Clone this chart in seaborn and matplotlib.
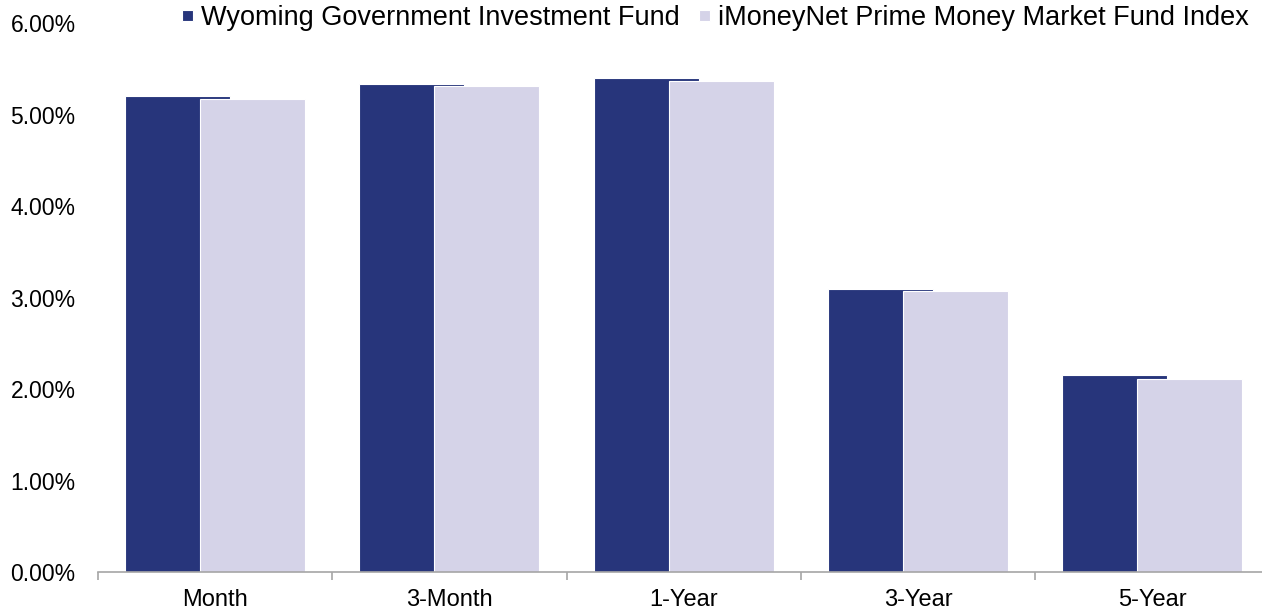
import pandas as pd
import matplotlib.pyplot as plt
import seaborn as sns
from matplotlib.ticker import FuncFormatter

# Data (percent)
periods = ["Month", "3-Month", "1-Year", "3-Year", "5-Year"]
wyoming = [5.20, 5.34, 5.40, 3.09, 2.15]
imoneynet = [5.17, 5.31, 5.37, 3.07, 2.11]
series_names = ["Wyoming Government Investment Fund",
                "iMoneyNet Prime Money Market Fund Index"]
series_colors = ["#27357B", "#D5D3E8"]
y_ticks = [0, 1, 2, 3, 4, 5, 6]


def main():
    df = pd.DataFrame({
        "period": periods * 2,
        "value": wyoming + imoneynet,
        "series": [series_names[0]] * len(periods) + [series_names[1]] * len(periods),
    })

    sns.set_theme(style="white")
    plt.rcParams["font.family"] = ["Liberation Sans", "DejaVu Sans"]

    fig = plt.figure(figsize=(12.62, 6.13), dpi=100)
    ax = fig.add_axes([0.0776, 0.0669, 0.9283, 0.8951])

    # overlapping bars: negative gap widens the dodged bars past each other
    sns.barplot(
        data=df, x="period", y="value", hue="series",
        order=periods, hue_order=series_names,
        palette=series_colors, width=0.64, gap=-0.4,
        edgecolor="white", linewidth=0.8, saturation=1,
        errorbar=None, ax=ax,
    )

    ax.set_xlim(-0.5, len(periods) - 0.5)
    ax.set_ylim(0, 6)
    ax.set_yticks(y_ticks)
    ax.yaxis.set_major_formatter(FuncFormatter(lambda v, _: f"{v:.2f}%"))
    ax.set_xlabel("")
    ax.set_ylabel("")

    # category boundary ticks under the axis line
    ax.set_xticks([i - 0.5 for i in range(len(periods) + 1)], minor=True)
    ax.tick_params(axis="x", which="major", length=0, pad=12, labelsize=17, colors="black")
    ax.tick_params(axis="x", which="minor", length=6, width=1.2, color="#A6A6A6", direction="out", bottom=True)
    ax.tick_params(axis="y", length=0, pad=16, labelsize=16.5, colors="black")

    for side in ["top", "right", "left"]:
        ax.spines[side].set_visible(False)
    ax.spines["bottom"].set_color("#A6A6A6")
    ax.spines["bottom"].set_linewidth(1.2)
    ax.grid(False)

    handles, labels = ax.get_legend_handles_labels()
    ax.get_legend().remove()
    fig.legend(
        handles, labels, loc="center", bbox_to_anchor=(0.567, 0.97),
        ncol=2, frameon=False, fontsize=19.5, labelcolor="black",
        handlelength=0.42, handleheight=0.25, handletextpad=0.3,
        columnspacing=0.7, borderaxespad=0, borderpad=0,
    )

    fig.savefig("out.png", dpi=100)
    plt.close(fig)


if __name__ == "__main__":
    main()
